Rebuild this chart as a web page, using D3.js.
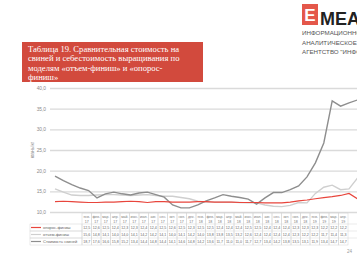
<!DOCTYPE html>
<html>
<head>
<meta charset="utf-8">
<script src="https://cdn.jsdelivr.net/npm/d3@7"></script>
<style>
  body { margin: 0; background: #fff; }
  svg { display: block; }
</style>
</head>
<body>
<div id="chart"></div>
<script>
var svgWidth = 357;
var svgHeight = 260;

// months jan 2017 .. jan 2020
var months = ["янв.17","фев.17","мар.17","апр.17","май.17","июн.17","июл.17","авг.17","сен.17","окт.17","ноя.17","дек.17",
  "янв.18","фев.18","мар.18","апр.18","май.18","июн.18","июл.18","авг.18","сен.18","окт.18","ноя.18","дек.18",
  "янв.19","фев.19","мар.19","апр.19","май.19","июн.19","июл.19","авг.19","сен.19","окт.19","ноя.19","дек.19",
  "янв.20"];

var seriesNames = ["опорос-финиш", "отъем-финиш", "Стоимость свиней"];
var seriesColors = ["#e8453c", "#cfcfcf", "#8e8e8e"];

var farrowFinish = [12.5,12.6,12.5,12.4,12.3,12.3,12.4,12.4,12.5,12.6,12.5,12.3,
  12.5,12.5,12.4,12.4,12.4,12.5,12.5,12.4,12.4,12.4,12.3,12.3,
  12.3,12.2,12.2,12.2,12.4,12.7,12.9,13.2,13.5,13.7,14.0,14.5,13.2];
var weanFinish = [15.6,14.8,14.1,14.0,14.0,14.1,14.2,14.2,14.1,14.0,14.1,14.2,
  14.0,13.8,13.8,13.5,13.2,12.6,12.4,12.4,12.4,12.4,12.3,12.2,
  12.2,11.7,11.4,11.3,11.6,12.3,12.2,14.5,16.0,16.5,15.4,15.6,18.2];
var pigPrice = [18.7,17.6,16.6,15.8,15.2,13.4,14.4,14.8,14.4,14.1,14.6,14.8,
  14.2,13.6,11.7,11.0,11.0,11.7,12.7,13.4,14.2,13.8,13.5,13.1,
  11.9,13.4,14.7,14.7,15.4,16.3,18.5,21.9,26.7,36.9,35.6,36.4,37.1];

var yTicks = [10, 15, 20, 25, 30, 35, 40];

var allSeries = [farrowFinish, weanFinish, pigPrice];

var svg = d3.select("#chart")
  .append("svg")
  .attr("width", svgWidth)
  .attr("height", svgHeight);

// logo
svg.append("rect")
  .attr("x", 302).attr("y", 4)
  .attr("width", 16).attr("height", 21)
  .attr("fill", "#e4574a");
svg.append("text")
  .attr("x", 310).attr("y", 21)
  .attr("text-anchor", "middle")
  .attr("font-family", "Liberation Sans, Arial, sans-serif")
  .attr("font-weight", "bold")
  .attr("font-size", 17)
  .attr("fill", "#fff")
  .text("E");
svg.append("text")
  .attr("x", 320).attr("y", 25)
  .attr("font-family", "Liberation Sans, Arial, sans-serif")
  .attr("font-weight", "bold")
  .attr("font-size", 18)
  .attr("fill", "#222")
  .text("MEAT");
var logoLines = ["ИНФОРМАЦИОННО-", "АНАЛИТИЧЕСКОЕ", "АГЕНТСТВО \"ИНФОМИТ\""];
svg.selectAll(".logoLine")
  .data(logoLines)
  .enter()
  .append("text")
  .attr("class", "logoLine")
  .attr("x", 302)
  .attr("y", (d, i) => 35 + i * 9.5)
  .attr("font-family", "Liberation Sans, Arial, sans-serif")
  .attr("font-size", 6.2)
  .attr("fill", "#555")
  .text(d => d);

// title box
svg.append("rect")
  .attr("x", 22).attr("y", 42)
  .attr("width", 181).attr("height", 40)
  .attr("fill", "#d24a3d");
var titleLines = ["Таблица 19. Сравнительная стоимость на",
  "свиней и себестоимость выращивания по",
  "моделям «отъем-финиш» и «опорос-",
  "финиш»"];
svg.selectAll(".titleLine")
  .data(titleLines)
  .enter()
  .append("text")
  .attr("class", "titleLine")
  .attr("x", 28)
  .attr("y", (d, i) => 52 + i * 9.3)
  .attr("font-family", "Liberation Serif, DejaVu Serif, serif")
  .attr("font-size", 8.6)
  .attr("fill", "#fff")
  .text(d => d);

// scales
var x = d3.scalePoint()
  .domain(months)
  .range([55, 357.4]);

var y = d3.scaleLinear()
  .domain([10, 40])
  .range([212, 88]);

var chartGroup = svg.append("g");

// grid + y labels
var leftAxis = d3.axisLeft(y)
  .tickValues(yTicks)
  .tickSize(-320)
  .tickPadding(4)
  .tickFormat(d => d.toFixed(1).replace(".", ","));

var yAxisG = chartGroup.append("g")
  .attr("transform", "translate(50,0)")
  .call(leftAxis);
yAxisG.select(".domain").remove();
yAxisG.selectAll("line")
  .attr("stroke", "#dadada")
  .attr("stroke-width", 1.3);
yAxisG.selectAll("text")
  .attr("font-family", "Liberation Sans, Arial, sans-serif")
  .attr("font-size", 4.8)
  .attr("fill", "#8a8a8a");

chartGroup.append("text")
  .attr("transform", "translate(34,150) rotate(-90)")
  .attr("text-anchor", "middle")
  .attr("font-family", "Liberation Sans, Arial, sans-serif")
  .attr("font-size", 4.8)
  .attr("fill", "#8a8a8a")
  .text("юань/кг");

// lines
var line = d3.line()
  .x((d, i) => x(months[i]))
  .y(d => y(d));

var drawOrder = [1, 2, 0];
drawOrder.forEach(function(k) {
  chartGroup.append("path")
    .datum(allSeries[k])
    .attr("fill", "none")
    .attr("stroke", seriesColors[k])
    .attr("stroke-width", k == 0 ? 1.2 : 1.4)
    .attr("d", line);
});

// data table (only the columns that fit on the slide)
var colX = d3.scaleBand()
  .domain(months)
  .range([82, 82 + months.length * 9.5]);
var shown = months.filter(m => colX(m) + colX.bandwidth() <= svgWidth);
var rowTop = 213;
var headH = 11;
var rowH = 7;
var tableG = svg.append("g")
  .attr("font-family", "Liberation Sans, Arial, sans-serif")
  .attr("fill", "#666");

shown.forEach(function(m) {
  tableG.append("rect")
    .attr("x", colX(m)).attr("y", rowTop)
    .attr("width", colX.bandwidth()).attr("height", headH + rowH * 3)
    .attr("fill", "none")
    .attr("stroke", "#d4d4d4")
    .attr("stroke-width", 0.5);
  var parts = m.split(".");
  tableG.append("text")
    .attr("x", colX(m) + colX.bandwidth() / 2).attr("y", rowTop + 4.5)
    .attr("text-anchor", "middle")
    .attr("font-size", 3.4)
    .attr("fill", "#777")
    .text(parts[0] + ".");
  tableG.append("text")
    .attr("x", colX(m) + colX.bandwidth() / 2).attr("y", rowTop + 9.5)
    .attr("text-anchor", "middle")
    .attr("font-size", 3.6)
    .attr("fill", "#777")
    .text(parts[1]);
});

seriesNames.forEach(function(name, k) {
  var ry = rowTop + headH + rowH * k;
  tableG.append("rect")
    .attr("x", 30).attr("y", ry)
    .attr("width", 52).attr("height", rowH)
    .attr("fill", "none")
    .attr("stroke", "#d4d4d4")
    .attr("stroke-width", 0.5);
  tableG.append("line")
    .attr("x1", 31).attr("x2", 41)
    .attr("y1", ry + rowH / 2).attr("y2", ry + rowH / 2)
    .attr("stroke", seriesColors[k])
    .attr("stroke-width", 1.2);
  tableG.append("text")
    .attr("x", 43).attr("y", ry + 4.8)
    .attr("font-size", 4)
    .attr("fill", "#666")
    .text(name);
  tableG.append("line")
    .attr("x1", 82).attr("x2", svgWidth)
    .attr("y1", ry).attr("y2", ry)
    .attr("stroke", "#d4d4d4")
    .attr("stroke-width", 0.5);
  shown.forEach(function(m, i) {
    tableG.append("text")
      .attr("x", colX(m) + colX.bandwidth() / 2)
      .attr("y", ry + 4.8)
      .attr("text-anchor", "middle")
      .attr("font-size", 3.6)
      .attr("fill", "#666")
      .text(allSeries[k][i].toFixed(1).replace(".", ","));
  });
});

// page number
svg.append("text")
  .attr("x", 347).attr("y", 253)
  .attr("font-family", "Liberation Sans, Arial, sans-serif")
  .attr("font-size", 4.5)
  .attr("fill", "#999")
  .text("24");
</script>
</body>
</html>
